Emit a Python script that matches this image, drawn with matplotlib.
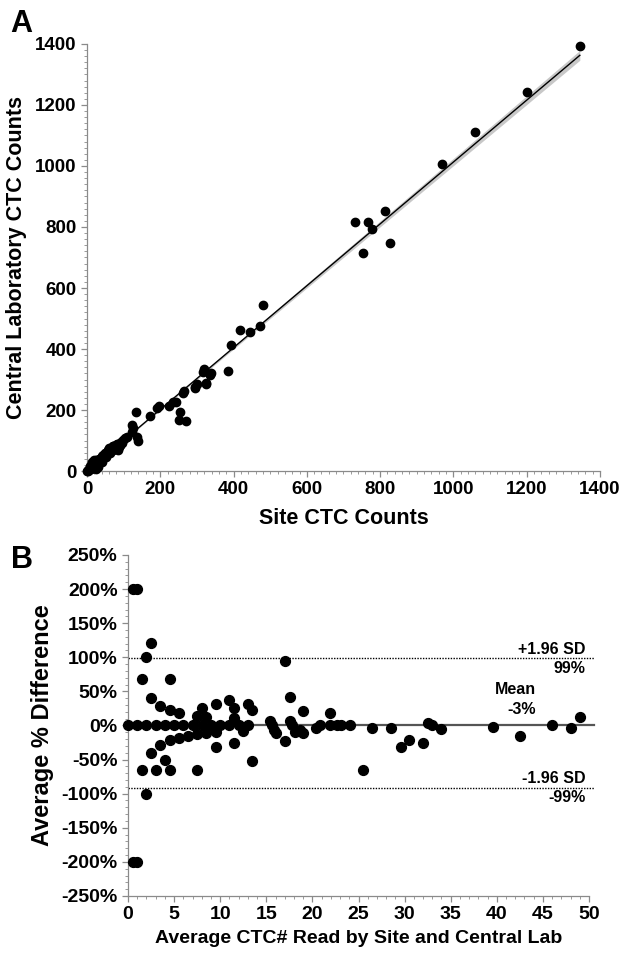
import numpy as np
import matplotlib
matplotlib.use("Agg")
import matplotlib.pyplot as plt
from matplotlib.ticker import MultipleLocator

plt.rcParams['font.family'] = ['Liberation Sans', 'DejaVu Sans']
plt.rcParams['font.weight'] = 'bold'
plt.rcParams['axes.unicode_minus'] = False

# panel A: site vs central lab counts
site_counts = [1345, 1200, 1059, 969, 731, 767, 779, 814, 754, 827,
               480, 471, 446, 418, 394, 386, 319, 338, 326, 300, 294, 264,
               325, 317, 335, 295, 263, 270, 250, 254, 236, 225, 243, 197, 190, 172,
               134, 122, 126, 124, 137, 140, 99, 90, 72, 110, 105,
               0, 2, 4, 5, 8, 10, 12, 14, 15, 18, 20, 22, 24, 25, 28, 30, 32, 35,
               38, 40, 42, 45, 48, 50, 52, 55, 58, 60, 62, 65, 68, 70, 72, 75, 78,
               80, 82, 85, 88, 90, 92, 95, 20, 30, 40, 8, 25, 60, 85]
central_counts = [1392, 1243, 1112, 1005, 815, 815, 795, 853, 716, 746,
                  544, 476, 456, 463, 412, 329, 333, 320, 290, 284, 277, 263,
                  285, 326, 315, 271, 257, 164, 167, 195, 227, 213, 225, 212, 205, 180,
                  195, 151, 140, 129, 113, 100, 102, 85, 82, 112, 108,
                  0, 3, 1, 8, 5, 12, 6, 18, 30, 22, 15, 28, 35, 10, 30, 25, 38, 40,
                  33, 45, 48, 52, 55, 60, 47, 62, 70, 66, 58, 72, 75, 68, 82, 78, 85,
                  74, 90, 88, 80, 85, 95, 92, 35, 12, 30, 15, 5, 75, 70]
fit_slope = 1.014
fit_intercept = -1.0

# panel B: Bland-Altman style
avg_counts = [0.5, 1.0, 0.5, 1.0,
              2.5, 2.0, 1.5, 4.5, 2.5, 3.5, 4.5, 5.5, 7.5, 8.0, 8.5, 9.5, 11.0, 11.5, 11.5, 13.0, 13.5,
              0, 1, 2, 3, 4, 5, 6, 7, 8, 9, 10, 11, 12, 13,
              12.5, 2.5, 3.5, 4.5, 5.5, 6.5, 7.5, 8.5, 9.5,
              4.0, 1.5, 3.0, 4.5, 7.5, 2.0, 9.5, 11.5, 13.5,
              15.4, 15.6, 15.8, 16.1, 17.0, 17.6, 17.6, 17.8, 18.1, 18.7, 19.0, 19.0, 17.0,
              20.4, 20.8, 21.9, 21.9, 22.7, 23.1, 24.1, 25.5, 26.5, 28.5, 29.6, 30.5,
              32.0, 32.5, 33.0, 34.0, 39.6, 42.5, 46.0, 48.0, 49.0]
pct_diff = [200, 200, -200, -200,
            121, 100, 68, 68, 40, 29, 23, 18, 14, 25, 12, 32, 37, 26, 11, 31, 23,
            0, 0, 0, 0, 0, 0, 0, 0, 0, 0, 0, 0, 0, 0,
            -8, -40, -28, -22, -18, -15, -13, -11, -10,
            -50, -66, -66, -66, -66, -100, -32, -26, -52,
            7, 0, -6, -11, -23, 41, 7, 0, -9, -6, -11, 21, 95,
            -4, 0, 18, 0, 0, 0, 0, -66, -4, -4, -31, -22,
            -25, 4, 1, -5, -2, -16, 0, -4, 13]
mean_line = 0
sd_upper = 99
sd_lower = -92

fig = plt.figure(figsize=(6.2, 9.56), dpi=100)
grey = '#8a8a8a'


def style_axes(ax):
    for s in ['top', 'right']:
        ax.spines[s].set_visible(False)
    for s in ['left', 'bottom']:
        ax.spines[s].set_color(grey)
        ax.spines[s].set_linewidth(0.9)
    ax.tick_params(which='major', direction='out', length=4, width=0.9, color=grey)
    ax.tick_params(which='minor', direction='out', length=2.5, width=0.6, color=grey)


# ---- A ----
ax1 = fig.add_axes([0.1403, 0.5073, 0.8274, 0.4467])
xs = np.array([0, 1345])
ax1.fill_between(xs, fit_slope * xs + fit_intercept - xs * 0.012,
                 fit_slope * xs + fit_intercept + xs * 0.012, color='#c8c8c8', lw=0)
ax1.plot(xs, fit_slope * xs + fit_intercept, color='black', lw=1.0)
ax1.scatter(site_counts, central_counts, s=36, color='black', zorder=3, clip_on=False)
ax1.set_xlim(0, 1400)
ax1.set_ylim(0, 1400)
ax1.xaxis.set_major_locator(MultipleLocator(200))
ax1.yaxis.set_major_locator(MultipleLocator(200))
ax1.xaxis.set_minor_locator(MultipleLocator(20))
ax1.yaxis.set_minor_locator(MultipleLocator(20))
style_axes(ax1)
ax1.tick_params(labelsize=13.5)
ax1.set_xlabel('Site CTC Counts', fontsize=15.5, fontweight='bold', labelpad=7)
ax1.set_ylabel('Central Laboratory CTC Counts', fontsize=15.5, fontweight='bold', labelpad=6)
fig.text(0.035, 0.975, 'A', fontsize=22, fontweight='bold', ha='center', va='center')

# ---- B ----
ax2 = fig.add_axes([0.2065, 0.0628, 0.7435, 0.3567])
ax2.plot([0, 50.5], [mean_line, mean_line], color='#555555', lw=1.6, clip_on=False, zorder=2)
ax2.plot([0, 50.5], [sd_upper, sd_upper], color='black', lw=1.0, ls=(0, (1, 1)), clip_on=False)
ax2.plot([0, 50.5], [sd_lower, sd_lower], color='black', lw=1.0, ls=(0, (1, 1)), clip_on=False)
ax2.scatter(avg_counts, pct_diff, s=50, color='black', zorder=3, clip_on=False)
ax2.set_xlim(0, 50)
ax2.set_ylim(-250, 250)
ax2.xaxis.set_major_locator(MultipleLocator(5))
ax2.xaxis.set_minor_locator(MultipleLocator(1))
yt = list(range(-250, 251, 50))
ax2.set_yticks(yt)
ax2.set_yticklabels([f'{v}%' for v in yt])
ax2.yaxis.set_minor_locator(MultipleLocator(10))
style_axes(ax2)
ax2.tick_params(labelsize=14)
ax2.set_xlabel('Average CTC# Read by Site and Central Lab', fontsize=14, fontweight='bold', labelpad=5)
ax2.set_ylabel('Average % Difference', fontsize=17, fontweight='bold', labelpad=5)

ax2.text(49.6, 112, '+1.96 SD', fontsize=11.5, fontweight='bold', ha='right', va='center')
ax2.text(49.6, 84, '99%', fontsize=11.5, fontweight='bold', ha='right', va='center')
ax2.text(42, 52, 'Mean', fontsize=11.5, fontweight='bold', ha='center', va='center')
ax2.text(42.7, 23, '-3%', fontsize=11.5, fontweight='bold', ha='center', va='center')
ax2.text(49.6, -78, '-1.96 SD', fontsize=11.5, fontweight='bold', ha='right', va='center')
ax2.text(49.6, -106, '-99%', fontsize=11.5, fontweight='bold', ha='right', va='center')
fig.text(0.035, 0.414, 'B', fontsize=22, fontweight='bold', ha='center', va='center')

fig.savefig('out.png', dpi=100)
